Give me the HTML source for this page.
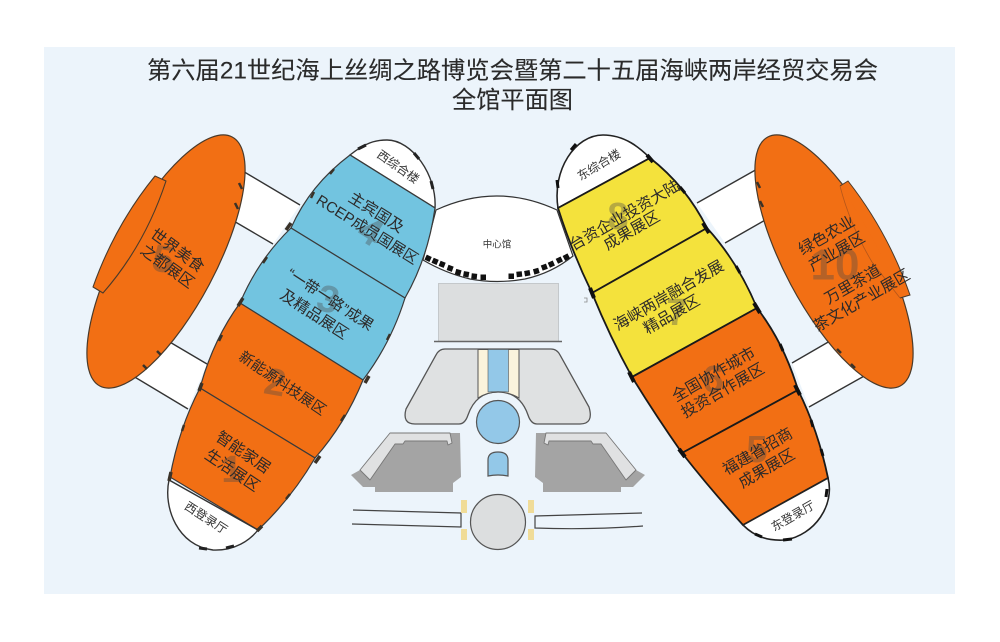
<!DOCTYPE html>
<html><head><meta charset="utf-8"><style>
html,body{margin:0;padding:0;background:#fff}
svg{display:block;filter:blur(.35px)}
text{font-family:"Liberation Sans","Noto Sans CJK SC",sans-serif}
.l{font-size:15.5px;fill:#2c2a2a;text-anchor:middle;dominant-baseline:central}
.s{font-size:12px;fill:#333;text-anchor:middle;dominant-baseline:central}
.n{font-size:38px;font-weight:bold;fill:#4a4a4a;opacity:.36;text-anchor:middle;dominant-baseline:central}
.b{stroke:#3a3a3a;stroke-width:1.2}
.bk{stroke:#1a1a1a;stroke-width:1.8}
</style></head><body>
<svg width="1000" height="642" viewBox="0 0 1000 642" xmlns="http://www.w3.org/2000/svg">
<rect width="1000" height="642" fill="#fff"/>
<rect x="44" y="47" width="911" height="547" fill="#ecf4fb"/>
<text x="147" y="78.500" font-size="24" textLength="731" lengthAdjust="spacingAndGlyphs" fill="#2a2a2a" stroke="#2a2a2a" stroke-width=".12">第六届21世纪海上丝绸之路博览会暨第二十五届海峡两岸经贸交易会</text>
<text x="452" y="108" font-size="24" textLength="121" lengthAdjust="spacingAndGlyphs" fill="#2a2a2a" stroke="#2a2a2a" stroke-width=".12">全馆平面图</text>

<!-- connectors -->
<g fill="#fff">
<polygon points="241,170 300,205 273,244 232,220"/>
<polygon points="168,341 207,364 188,409 133,376"/>
<polygon points="697,203 759,168 767,219 725,243"/>
<polygon points="792,363 830,341 866,375 809,407"/>
</g>
<g stroke="#333" stroke-width="1.4">
<line x1="241" y1="170" x2="300" y2="205"/><line x1="232" y1="220" x2="273" y2="244"/>
<line x1="168" y1="341" x2="207" y2="364"/><line x1="133" y1="376" x2="188" y2="409"/>
<line x1="697" y1="203" x2="759" y2="168"/><line x1="725" y1="243" x2="767" y2="219"/>
<line x1="792" y1="363" x2="830" y2="341"/><line x1="809" y1="407" x2="866" y2="375"/>
</g>

<!-- left ellipse -->
<ellipse cx="166" cy="261.500" rx="141" ry="49" transform="rotate(-62 166 261.500)" fill="#f26f14" stroke="#4a3a2a" stroke-width="1.2"/>
<path d="M155,176 Q115,225 93,287 L103,293 Q145,245 166,181 Z" fill="#f26f14" stroke="#4a3a2a" stroke-width="1.100" stroke-linejoin="round"/>

<!-- right ellipse -->
<ellipse cx="834" cy="261.500" rx="141" ry="49" transform="rotate(62 834 261.500)" fill="#f26f14" stroke="#4a3a2a" stroke-width="1.2"/>
<path d="M840,186 L848,181 Q888,232 910,295 L900,298 Q878,240 840,186 Z" fill="#f26f14"/>
<path d="M840,186 L848,181 Q888,232 910,295 L900,298" fill="none" stroke="#4a3a2a" stroke-width="1"/>
<path d="M840,186 Q850,225 872,262 L900,298" fill="none" stroke="#b5561a" stroke-width=".8"/>

<!-- center hall -->
<path d="M436,210 Q497,182 557,210 L573,256 Q552,273 525,279 Q497,284 470,279 Q445,273 423,260 Z" fill="#fff" stroke="#333" stroke-width="1.2"/>
<g fill="#111">
<rect x="425.500" y="255.500" width="5.500" height="5.500" transform="rotate(25 428 258)"/>
<rect x="432.500" y="258.500" width="5.500" height="5.500" transform="rotate(24 435 261)"/>
<rect x="439.500" y="261.500" width="5.500" height="5.500" transform="rotate(22 442 264)"/>
<rect x="447.500" y="265.500" width="5.500" height="5.500" transform="rotate(20 450 268)"/>
<rect x="455.500" y="269.500" width="5.500" height="5.500" transform="rotate(16 458 272)"/>
<rect x="463.500" y="271.500" width="5.500" height="5.500" transform="rotate(10 466 274)"/>
<rect x="471.500" y="273.500" width="5.500" height="5.500" transform="rotate(6 474 276)"/>
<rect x="480.500" y="274.500" width="5.500" height="5.500"/>
<rect x="508.500" y="273.500" width="5.500" height="5.500"/>
<rect x="516.500" y="271.500" width="5.500" height="5.500" transform="rotate(-6 519 274)"/>
<rect x="524.500" y="270.500" width="5.500" height="5.500" transform="rotate(-10 527 273)"/>
<rect x="533.500" y="268.500" width="5.500" height="5.500" transform="rotate(-16 536 271)"/>
<rect x="541.500" y="264.500" width="5.500" height="5.500" transform="rotate(-20 544 267)"/>
<rect x="548.500" y="261.500" width="5.500" height="5.500" transform="rotate(-24 551 264)"/>
<rect x="556.500" y="257.500" width="5.500" height="5.500" transform="rotate(-26 559 260)"/>
<rect x="563.500" y="254.500" width="5.500" height="5.500" transform="rotate(-28 566 257)"/>
</g>

<!-- left hall -->
<path d="M350,155 C365,143 375,140 387,140 C412,140 437,175 435,208 Z" fill="#fff" stroke="#333" stroke-width="1.4"/>
<path d="M350,155 Q310,185 291,228 L405,298 Q428,258 435,208 Z" fill="#72c4e0" class="b"/>
<path d="M291,228 Q258,260 240,303 L363,380 Q391,343 405,298 Z" fill="#72c4e0" class="b"/>
<path d="M240,303 Q213,340 200,388 L315,458 Q345,424 363,380 Z" fill="#f26f14" class="b"/>
<path d="M200,388 Q179,428 170,477 L258,530 Q291,499 315,458 Z" fill="#f26f14" class="b"/>
<path d="M169,480 C163,508 178,546 213,550 C235,551 250,540 258,530 Z" fill="#fff" stroke="#333" stroke-width="1.4"/>

<!-- right hall -->
<path d="M558,208 C552,170 575,135 603,135 C625,135 640,148 650,158 Z" fill="#fff" stroke="#222" stroke-width="1.6"/>
<path d="M558,208 L650,158 Q686,186 707,228 L592,293 Q572,252 558,208 Z" fill="#f4e23c" class="bk"/>
<path d="M592,293 L707,228 Q738,262 757,308 L632,377 Q610,337 592,293 Z" fill="#f4e23c" class="bk"/>
<path d="M632,377 L757,308 Q784,343 798,390 L682,453 Q656,416 632,377 Z" fill="#f26f14" class="bk"/>
<path d="M682,453 L798,390 Q818,430 828,478 L743,525 Q711,490 682,453 Z" fill="#f26f14" class="bk"/>
<path d="M743,525 C755,537 768,541 785,540 C815,535 835,505 828,478 Z" fill="#fff" stroke="#222" stroke-width="1.6"/>

<!-- edge ticks: left hall and ellipses -->
<g stroke="#3a3228" fill="none" stroke-linecap="butt">
<path stroke-width="3.500" d="M291,223 l-5,7 M243,298 l-5,8 M202,383 l-3,8 M171,472 l-2,9 M369,376 l-4,7 M320,456 l-5,7 M262,526 l-5,5"/>
<path stroke-width="2.500" d="M334,169 l-4,5 M314,192 l-3,6 M267,257 l-4,6 M222,335 l-3,6 M184,425 l-2,6 M390,334 l-3,6 M345,415 l-4,6 M290,494 l-4,5"/>
<path stroke-width="3" stroke="#222" d="M358,149 l8,-4 M414,153 l5,6 M431,181 l2,8 M199,548 l8,1 M226,548 l8,-2"/>
<path stroke-width="2.500" d="M239,183 l3,6 M235,203 l3,6 M157,351 l4,4 M143,365 l4,4 M757,182 l3,6 M760,201 l3,6 M837,349 l4,4 M851,364 l4,4"/>
</g>
<!-- edge ticks: right hall -->
<g stroke="#111" fill="none">
<path stroke-width="4" d="M647,155 l6,7 M703,223 l6,10 M754,303 l6,10 M795,385 l5,10 M590,288 l4,10 M629,372 l5,10 M679,449 l6,8"/>
<path stroke-width="3" d="M680,187 l5,6 M736,266 l4,7 M780,344 l3,7 M811,420 l2,7 M821,449 l2,7 M557,180 l1,8 M571,150 l5,-6 M827,489 l-1,8 M755,534 l7,3 M783,540 l9,-1"/>
</g>
<path d="M584,298 h3 v4 h-3" fill="none" stroke="#888" stroke-width=".8"/>

<!-- center buildings -->
<rect x="438.500" y="283.500" width="120" height="58" fill="#dcdedf" stroke="#c4c8cb" stroke-width="1"/>
<line x1="434" y1="341.500" x2="562" y2="341.500" stroke="#666" stroke-width="1.6"/>
<path d="M445,349 H551 Q557,349 560,355 L589,407 Q594,424 580,424 H537 Q531,424 528,415 Q520,392 498,392 Q476,392 468,415 Q465,424 459,424 H415 Q402,424 406,409 L436,355 Q439,349 445,349 Z" fill="#dfe1e2" stroke="#555" stroke-width="1.3"/>
<path d="M478,349.500 H519 V398 Q509,392 498,392 Q487,392 478,398 Z" fill="#faf3dc" stroke="#555" stroke-width="1"/>
<path d="M488,349.500 H508.500 V392 Q498,391 488,392 Z" fill="#93c8e8" stroke="#555" stroke-width=".6"/>
<circle cx="498" cy="422" r="21.500" fill="#93c8e8" stroke="#555" stroke-width="1.2"/>
<path d="M488,476 V460 Q488,452 498,452 Q508,452 508,460 V476 Q498,474 488,476 Z" fill="#93c8e8" stroke="#555" stroke-width="1.2"/>
<circle cx="498" cy="522" r="27.500" fill="#dcdedf" stroke="#555" stroke-width="1.2"/>

<path d="M460,433 L461,477 L453,483 V492 H375 V487 H363 L351,475 L360,470 L390,433 Z" fill="#a4a4a4"/>
<path d="M390,433 H450 L452,443 L448,445 L447,441 H405 L403,444 H395 L370,480 L360,470 Z" fill="#e0e1e2" stroke="#777" stroke-width=".9" stroke-linejoin="round"/>
<path d="M536,433 L535,477 L543,483 V492 H621 V487 H633 L645,475 L636,470 L606,433 Z" fill="#a4a4a4"/>
<path d="M606,433 H546 L544,443 L548,445 L549,441 H591 L593,444 H601 L626,480 L636,470 Z" fill="#e0e1e2" stroke="#777" stroke-width=".9" stroke-linejoin="round"/>

<path d="M353,510 L461,513 V527 L352,524" fill="none" stroke="#444" stroke-width="1.2"/>
<path d="M642,513 L535,516 V528 Q590,530 643,526" fill="none" stroke="#444" stroke-width="1.200"/>
<g fill="#f0dc98"><rect x="461" y="500" width="6" height="13"/><rect x="461" y="529" width="6" height="11"/><rect x="528" y="500" width="6" height="13"/><rect x="528" y="529" width="6" height="11"/></g>

<!-- watermark numbers -->
<text class="n" x="370" y="232" transform="rotate(32 370 232)">4</text>
<text class="n" x="328" y="300" transform="rotate(15 328 300)">3</text>
<text class="n" x="275" y="383" transform="rotate(10 275 383)">2</text>
<text class="n" x="232" y="470">1</text>
<text class="n" x="163" y="260" transform="rotate(10 163 260)">5</text>
<text class="n" x="618" y="217">8</text>
<text class="n" x="677" y="313">7</text>
<text class="n" x="713" y="380">6</text>
<text class="n" x="757" y="450">5</text>
<text class="n" x="835" y="265" style="font-size:44px">10</text>

<!-- labels -->
<text class="l" x="376" y="213" transform="rotate(32 376 213)">主宾国及</text>
<text class="l" x="367" y="230" transform="rotate(32 367 230)" style="font-size:15px">RCEP成员国展区</text>
<text class="l" x="330" y="300" transform="rotate(33 330 300)" style="font-size:15px">“一带一路”成果</text>
<text class="l" x="314" y="315" transform="rotate(33 314 315)">及精品展区</text>
<text class="l" x="282" y="384" transform="rotate(34 282 384)" style="font-size:14.500px">新能源科技展区</text>
<text class="l" x="243" y="453" transform="rotate(34 243 453)">智能家居</text>
<text class="l" x="232" y="471" transform="rotate(34 232 471)">生活展区</text>
<text class="s" x="206" y="518" transform="rotate(33 206 518)">西登录厅</text>
<text class="s" x="398" y="167" transform="rotate(35 398 167)">西综合楼</text>
<text class="l" x="177" y="251" transform="rotate(36 177 251)">世界美食</text>
<text class="l" x="167" y="267" transform="rotate(36 167 267)">之都展区</text>
<text class="s" x="497" y="245" style="font-size:9.500px">中心馆</text>
<text class="s" x="599" y="165" transform="rotate(-31 599 165)">东综合楼</text>
<text class="l" x="625" y="216" transform="rotate(-30 625 216)">台资企业投资大陆</text>
<text class="l" x="632" y="231" transform="rotate(-30 632 231)">成果展区</text>
<text class="l" x="669" y="296" transform="rotate(-30 669 296)">海峡两岸融合发展</text>
<text class="l" x="672" y="315" transform="rotate(-30 672 315)">精品展区</text>
<text class="l" x="714" y="375" transform="rotate(-30 714 375)">全国协作城市</text>
<text class="l" x="723" y="391" transform="rotate(-30 723 391)">投资合作展区</text>
<text class="l" x="758" y="452" transform="rotate(-30 758 452)">福建省招商</text>
<text class="l" x="767" y="469" transform="rotate(-30 767 469)">成果展区</text>
<text class="s" x="793" y="516" transform="rotate(-30 793 516)">东登录厅</text>
<text class="l" x="827" y="236" transform="rotate(-30 827 236)">绿色农业</text>
<text class="l" x="837" y="252" transform="rotate(-30 837 252)">产业展区</text>
<text class="l" x="853" y="285" transform="rotate(-30 853 285)">万里茶道</text>
<text class="l" x="862" y="301" transform="rotate(-30 862 301)">茶文化产业展区</text>
</svg>
</body></html>
